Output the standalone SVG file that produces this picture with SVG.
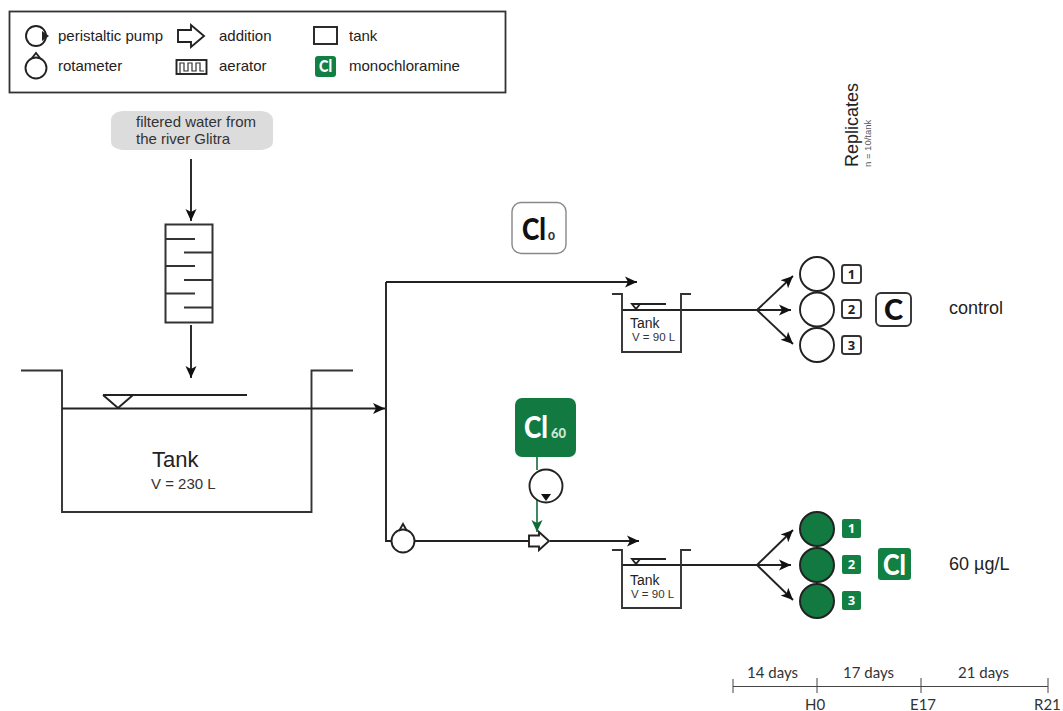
<svg xmlns="http://www.w3.org/2000/svg" width="1063" height="711" viewBox="0 0 1063 711">
<defs>
<marker id="a" markerUnits="userSpaceOnUse" markerWidth="14" markerHeight="14" refX="12" refY="7" orient="auto"><path d="M0,1.500 L12,7 L0,12.500 L3,7 Z" fill="#111"/></marker>
<marker id="g" markerUnits="userSpaceOnUse" markerWidth="14" markerHeight="14" refX="12" refY="7" orient="auto"><path d="M0,1.500 L12,7 L0,12.500 L3,7 Z" fill="#116b38"/></marker>
</defs>
<style>
text{font-family:"Liberation Sans",Arial,sans-serif;fill:#222}
.l{fill:none;stroke:#333;stroke-width:1.9}
.k{fill:none;stroke:#222;stroke-width:1.9}
.c{fill:#fff;stroke:#222;stroke-width:1.9}
.f{fill:#127a41;stroke:#222;stroke-width:2}
.lg{font-size:15px}
.gb{fill:#127f43}
.cal{font-family:Lato,"Noto Sans",sans-serif;font-weight:900}
.nb{font-size:13px;font-weight:bold;text-anchor:middle;font-family:"Open Sans",sans-serif}
.wb{fill:#fff;stroke:#333;stroke-width:1.9}
.t{font-size:15px;font-family:Lato,sans-serif;fill:#333}
</style>
<g id="legend">
<rect x="9.500" y="11.500" width="496" height="81" fill="#fff" stroke="#333" stroke-width="1.800"/>
<circle cx="36" cy="36" r="10" class="k"/><path d="M42,31 L49,36 L42,41 Z" fill="#222"/>
<text x="58" y="41" class="lg">peristaltic pump</text>
<path d="M178,30 H191 V25 L204,36 L191,47 V42 H178 Z" class="k"/>
<text x="219" y="41" class="lg">addition</text>
<rect x="314" y="27" width="23" height="17" class="k"/>
<text x="349" y="41" class="lg">tank</text>
<circle cx="36" cy="68" r="10.500" class="k"/><path d="M32,58 L36,53 L40,58" class="k"/>
<text x="58" y="71" class="lg">rotameter</text>
<rect x="176.500" y="60" width="30" height="14" class="k"/>
<path d="M180,73 V63 H184 V71 H188 V63 H192 V71 H196 V63 H200 V71 H204" fill="none" stroke="#333" stroke-width="1.200"/>
<text x="219" y="71" class="lg">aerator</text>
<rect x="315" y="56" width="21" height="21" rx="3" class="gb"/>
<text x="319" y="72" textLength="13" lengthAdjust="spacingAndGlyphs" class="cal" style="font-size:16px;fill:#fff">Cl</text>
<text x="349" y="71" class="lg">monochloramine</text>
</g>
<g id="source">
<path d="M122,111 H262 Q273,113 273,120 V142 Q273,148 262,150 H122 Q111,148 111,142 V120 Q111,113 122,111 Z" fill="#dcdcdc"/>
<text x="136" y="127" style="font-size:15px;fill:#333">filtered water from</text>
<text x="136" y="144" style="font-size:15px;fill:#333">the river Glitra</text>
</g>
<g id="aerator">
<rect x="165.500" y="224.500" width="47" height="98" fill="#fff" stroke="#333" stroke-width="2"/>
<path d="M166,239 H195 M184,252.500 H212 M166,266 H195 M184,280 H212 M166,293.500 H195 M184,307.500 H212" class="l"/>
</g>
<g id="tank-main">
<path d="M21,370.500 H62 V512 H311.500 V370.500 H353" class="l"/>
<path d="M103,395 L118,408 L133,395 M103,395 H247" class="k"/>
<text x="152" y="467" style="font-size:22px">Tank</text>
<text x="151" y="489" style="font-size:15px;fill:#333">V = 230 L</text>
</g>
<g id="cl0"><rect x="512" y="202.500" width="54" height="51" rx="9" fill="#fff" stroke="#888" stroke-width="1.400"/>
<text x="522" y="240" textLength="24" lengthAdjust="spacingAndGlyphs" class="cal" style="font-size:30px;fill:#111">Cl</text><text x="548" y="240" class="cal" style="font-size:12px;fill:#333">0</text></g>
<g id="cl60"><rect x="515" y="398" width="61" height="59" rx="7" fill="#127a41"/>
<text x="524" y="438" textLength="24" lengthAdjust="spacingAndGlyphs" class="cal" style="font-size:30px;fill:#fff">Cl</text><text x="551" y="438" textLength="15" lengthAdjust="spacingAndGlyphs" class="cal" style="font-size:13px;fill:#cfe6d8">60</text></g>
<g id="connectors">
<path d="M191,159 V221" class="k" marker-end="url(#a)"/>
<path d="M191,325 V378" class="k" marker-end="url(#a)"/>
<path d="M62,408.500 H385" class="k" marker-end="url(#a)"/>
<path d="M386,282 V541 H392" class="k"/>
<path d="M386,282 H637" class="k" marker-end="url(#a)"/>
<path d="M415,541 H529" class="k"/>
<path d="M550,541 H639" class="k" marker-end="url(#a)"/>
<path d="M537,457 V470" fill="none" stroke="#116b38" stroke-width="1.600"/>
<path d="M537,500 V532" fill="none" stroke="#116b38" stroke-width="1.600" marker-end="url(#g)"/>
<path d="M622,310 H757" class="k"/>
<path d="M757,310 L793,276" class="k" marker-end="url(#a)"/>
<path d="M757,310 H791" class="k" marker-end="url(#a)"/>
<path d="M757,310 L793,344" class="k" marker-end="url(#a)"/>
<path d="M622,565 H757" class="k"/>
<path d="M757,565 L793,530" class="k" marker-end="url(#a)"/>
<path d="M757,565 H791" class="k" marker-end="url(#a)"/>
<path d="M757,565 L793,600" class="k" marker-end="url(#a)"/>
</g>
<g id="rotameter"><circle cx="403" cy="541" r="11.500" class="c"/><path d="M399,531 L403,524 L407,531" class="k"/></g>
<g id="pump"><circle cx="546" cy="486" r="16.500" class="c"/><path d="M541,494 H551 L546,501 Z" fill="#111"/></g>
<g id="addition"><path d="M529,535.500 H539 V532 L549,541 L539,550 V546.500 H529 Z" class="c"/></g>
<g id="tank-control">
<path d="M612,294 H622 V352 H681 V294 H691" class="l"/>
<path d="M632,304 L636,309 L640,304 Z M632,304 H666" class="k"/>
<text x="630" y="328" style="font-size:14px">Tank</text>
<text x="632" y="341" style="font-size:11.500px;fill:#333">V = 90 L</text>
</g>
<g id="tank-chlor">
<path d="M612,550 H622 V608 H681 V550 H691" class="l"/>
<path d="M632,559 L636,564 L640,559 Z M632,559 H666" class="k"/>
<text x="630" y="585" style="font-size:14px">Tank</text>
<text x="631" y="598" style="font-size:11.500px;fill:#333">V = 90 L</text>
</g>
<g id="replicates-control">
<circle cx="817" cy="274" r="17" class="c"/><circle cx="817" cy="309.500" r="17" class="c"/><circle cx="817" cy="345" r="17" class="c"/>
<rect x="842" y="265" width="19" height="18" rx="2.500" class="wb"/><text x="851.500" y="279" class="nb" style="fill:#222">1</text>
<rect x="842" y="300" width="19" height="18" rx="2.500" class="wb"/><text x="851.500" y="314" class="nb" style="fill:#222">2</text>
<rect x="842" y="336" width="19" height="18" rx="2.500" class="wb"/><text x="851.500" y="350" class="nb" style="fill:#222">3</text>
<rect x="876" y="293" width="35" height="33" rx="5" class="wb"/>
<text x="893.500" y="320" text-anchor="middle" class="cal" style="font-size:29px;fill:#111">C</text>
<text x="949" y="314" style="font-size:18px">control</text>
</g>
<g id="replicates-chlor">
<circle cx="817" cy="529" r="17" class="f"/><circle cx="817" cy="565" r="17" class="f"/><circle cx="817" cy="601" r="17" class="f"/>
<rect x="842" y="519" width="19" height="19" rx="2" class="gb"/><text x="851.500" y="533" class="nb" style="fill:#fff">1</text>
<rect x="842" y="555" width="19" height="19" rx="2" class="gb"/><text x="851.500" y="569" class="nb" style="fill:#fff">2</text>
<rect x="842" y="591" width="19" height="19" rx="2" class="gb"/><text x="851.500" y="605" class="nb" style="fill:#fff">3</text>
<rect x="878" y="548" width="33" height="32" rx="3" class="gb"/>
<text x="883" y="575" textLength="23" lengthAdjust="spacingAndGlyphs" class="cal" style="font-size:29px;fill:#fff">Cl</text>
<text x="949" y="570" style="font-size:18px">60 µg/L</text>
</g>
<g id="replicates-header">
<text transform="translate(858,167) rotate(-90)" style="font-size:18px">Replicates</text>
<text transform="translate(871,167) rotate(-90)" style="font-size:9.500px;fill:#555">n = 10/tank</text>
</g>
<g id="timeline">
<path d="M733,686.500 H1048 M733,679 V693 M817,678 V693 M921,678 V693 M1048,678 V693" fill="none" stroke="#444" stroke-width="1"/>
<text x="747" y="678" class="t">14 days</text>
<text x="843" y="678" class="t">17 days</text>
<text x="958" y="678" class="t">21 days</text>
<text x="805" y="710" class="t">H0</text>
<text x="910" y="710" class="t">E17</text>
<text x="1034" y="710" class="t">R21</text>
</g>
</svg>
